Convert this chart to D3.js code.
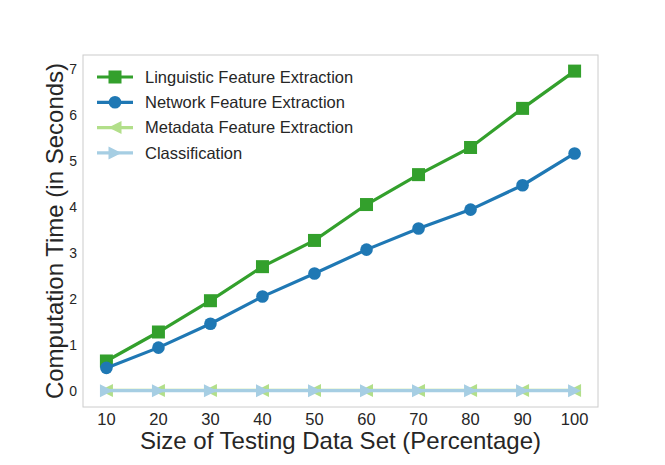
<!DOCTYPE html>
<html><head><meta charset="utf-8">
<script src="https://cdn.jsdelivr.net/npm/d3@7"></script>
<style>body{margin:0;background:#fff}</style>
</head><body><svg id="c" width="665" height="465"></svg>
<script>
const xValues = [10,20,30,40,50,60,70,80,90,100];
const linguistic = [0.65,1.28,1.96,2.70,3.27,4.05,4.70,5.29,6.14,6.95];
const network = [0.50,0.94,1.46,2.05,2.55,3.07,3.53,3.94,4.47,5.16];
const metadata = [0.01,0.01,0.01,0.01,0.01,0.01,0.01,0.01,0.01,0.01];
const classification = [0.005,0.005,0.005,0.005,0.005,0.005,0.005,0.005,0.005,0.005];
const yTicks = [0,1,2,3,4,5,6,7];
const seriesNames = ["Linguistic Feature Extraction","Network Feature Extraction","Metadata Feature Extraction","Classification"];
const seriesColors = ["#33a02c","#1f78b4","#b2df8a","#a6cee3"];
const seriesMarkers = ["square","circle","triLeft","triRight"];

const svg = d3.select("#c");
const L=83, R=598, T=55, B=407;
const x = d3.scaleLinear().domain([5.5,104.5]).range([L,R]);
const y = d3.scaleLinear().domain([-0.35,7.3]).range([B,T]);
const font = "'Liberation Sans', Arial, sans-serif";
const textColor = "#262626";

svg.append("rect").attr("x",L).attr("y",T).attr("width",R-L).attr("height",B-T)
  .attr("fill","none").attr("stroke","#cccccc").attr("stroke-width",1);

// ticks
svg.append("g").selectAll("text").data(yTicks).join("text")
  .attr("x",L-6).attr("y",d=>y(d)).attr("dy","0.35em").attr("text-anchor","end")
  .attr("font-family",font).attr("font-size",14).attr("fill",textColor).text(d=>d);
svg.append("g").selectAll("text").data(xValues).join("text")
  .attr("x",d=>x(d)).attr("y",B+18).attr("text-anchor","middle")
  .attr("font-family",font).attr("font-size",16.5).attr("fill",textColor).text(d=>d);

svg.append("text").attr("x",(L+R)/2).attr("y",449).attr("text-anchor","middle")
  .attr("font-family",font).attr("font-size",24).attr("fill",textColor)
  .text("Size of Testing Data Set (Percentage)");
svg.append("text").attr("transform",`translate(63,${(T+B)/2}) rotate(-90)`).attr("text-anchor","middle")
  .attr("font-family",font).attr("font-size",24).attr("fill",textColor)
  .text("Computation Time (in Seconds)");

function marker(g, type, cx, cy, color){
  const s=6.5;
  if(type==="square") g.append("rect").attr("x",cx-s).attr("y",cy-s).attr("width",2*s).attr("height",2*s).attr("fill",color);
  else if(type==="circle") g.append("circle").attr("cx",cx).attr("cy",cy).attr("r",6.3).attr("fill",color);
  else if(type==="triLeft") g.append("path").attr("d",`M${cx-s},${cy}L${cx+s},${cy-s}L${cx+s},${cy+s}Z`).attr("fill",color);
  else g.append("path").attr("d",`M${cx+s},${cy}L${cx-s},${cy-s}L${cx-s},${cy+s}Z`).attr("fill",color);
}

const allSeries=[linguistic,network,metadata,classification];
const line=d3.line().x((d,i)=>x(xValues[i])).y(d=>y(d));
allSeries.forEach((vals,k)=>{
  const g=svg.append("g");
  g.append("path").datum(vals).attr("d",line).attr("fill","none")
    .attr("stroke",seriesColors[k]).attr("stroke-width",3.2);
  vals.forEach((v,i)=>marker(g,seriesMarkers[k],x(xValues[i]),y(v),seriesColors[k]));
});

// legend
seriesNames.forEach((n,k)=>{
  const cy=77+k*25.3;
  const g=svg.append("g");
  g.append("line").attr("x1",97).attr("x2",133).attr("y1",cy).attr("y2",cy)
    .attr("stroke",seriesColors[k]).attr("stroke-width",3.2);
  marker(g,seriesMarkers[k],115,cy,seriesColors[k]);
  g.append("text").attr("x",145).attr("y",cy).attr("dy","0.35em")
    .attr("font-family",font).attr("font-size",16.5).attr("fill",textColor).text(n);
});
</script></body></html>
